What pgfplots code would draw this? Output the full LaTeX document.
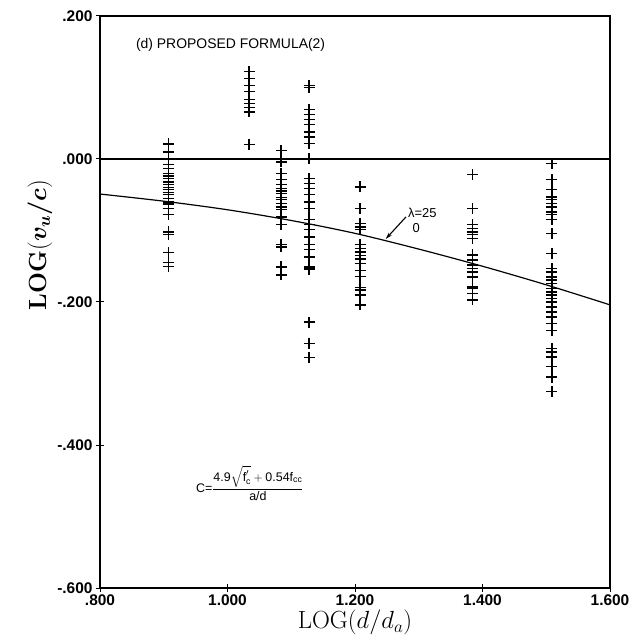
\documentclass[border=0pt]{standalone}
\usepackage{pgfplots}
\pgfplotsset{compat=1.18}
\usepackage{amsmath}
\usepackage[no-math]{fontspec}
\usepackage{bm}
\setmainfont{Liberation Sans}
\usetikzlibrary{arrows.meta}
\begin{document}
\begin{tikzpicture}
\begin{axis}[
  scale only axis, width=510bp, height=572bp,
  xmin=0.8, xmax=1.6, ymin=-0.6, ymax=0.2,
  xtick={0.8,1.0,1.2,1.4,1.6}, xticklabels={.800,1.000,1.200,1.400,1.600},
  ytick={-0.6,-0.4,-0.2,0,0.2}, yticklabels={-.600,-.400,-.200,.000,.200},
  tick pos=left, tick align=center, major tick length=8bp,
  axis line style={line width=1.2pt},
  every tick/.style={black, line width=1pt},
  ticklabel style={font=\fontsize{15.5}{15.5}\selectfont\bfseries},
  xticklabel style={yshift=1bp},
  xlabel={$\mathrm{LOG}(d/d_a)$},
  ylabel={$\mathbf{LOG}(\bm{v_u/c})$},
  label style={font=\fontsize{26}{26}\selectfont},
  ylabel style={at={(ticklabel cs:0.6)}, yshift=-2bp},
  xlabel style={inner sep=1bp},
]
\addplot[black, line width=1.2pt] coordinates {(0.8,0) (1.6,0)};
\addplot[black, line width=1.2pt, smooth] coordinates {
(0.8,-0.049) (0.9,-0.059) (1.0,-0.071) (1.1,-0.086) (1.2,-0.104)
(1.3,-0.126) (1.4,-0.150) (1.5,-0.176) (1.6,-0.204)};
\addplot[only marks, mark=+, mark size=5.5bp, line width=1.4pt, black] table {
x y
0.907 0.021
0.907 0.010
0.907 0.000
0.907 -0.008
0.907 -0.013
0.907 -0.020
0.907 -0.024
0.907 -0.027
0.907 -0.032
0.907 -0.036
0.907 -0.040
0.907 -0.043
0.907 -0.047
0.907 -0.050
0.907 -0.055
0.907 -0.060
0.907 -0.062
0.907 -0.064
0.907 -0.069
0.907 -0.078
0.907 -0.102
0.907 -0.106
0.907 -0.131
0.907 -0.145
0.907 -0.150
1.034 0.122
1.034 0.113
1.034 0.103
1.034 0.094
1.034 0.083
1.034 0.078
1.034 0.072
1.034 0.066
1.034 0.020
1.084 0.012
1.084 -0.004
1.084 -0.020
1.084 -0.029
1.084 -0.036
1.084 -0.041
1.084 -0.045
1.084 -0.048
1.084 -0.054
1.084 -0.057
1.084 -0.062
1.084 -0.067
1.084 -0.071
1.084 -0.081
1.084 -0.092
1.084 -0.120
1.084 -0.123
1.084 -0.151
1.084 -0.162
1.128 0.103
1.128 0.100
1.128 0.069
1.128 0.062
1.128 0.055
1.128 0.048
1.128 0.038
1.128 0.031
1.128 0.022
1.128 0.000
1.128 -0.027
1.128 -0.034
1.128 -0.041
1.128 -0.050
1.128 -0.060
1.128 -0.069
1.128 -0.085
1.128 -0.092
1.128 -0.099
1.128 -0.109
1.128 -0.120
1.128 -0.127
1.128 -0.137
1.128 -0.151
1.128 -0.154
1.128 -0.228
1.128 -0.258
1.128 -0.278
1.208 -0.039
1.208 -0.069
1.208 -0.090
1.208 -0.095
1.208 -0.099
1.208 -0.120
1.208 -0.125
1.208 -0.130
1.208 -0.135
1.208 -0.140
1.208 -0.146
1.208 -0.156
1.208 -0.164
1.208 -0.180
1.208 -0.183
1.208 -0.190
1.208 -0.204
1.384 -0.022
1.384 -0.069
1.384 -0.092
1.384 -0.097
1.384 -0.102
1.384 -0.106
1.384 -0.111
1.384 -0.134
1.384 -0.141
1.384 -0.148
1.384 -0.153
1.384 -0.158
1.384 -0.165
1.384 -0.179
1.384 -0.181
1.384 -0.188
1.384 -0.197
1.509 -0.006
1.509 -0.029
1.509 -0.043
1.509 -0.053
1.509 -0.057
1.509 -0.062
1.509 -0.067
1.509 -0.074
1.509 -0.078
1.509 -0.085
1.509 -0.104
1.509 -0.132
1.509 -0.153
1.509 -0.158
1.509 -0.165
1.509 -0.169
1.509 -0.174
1.509 -0.181
1.509 -0.186
1.509 -0.190
1.509 -0.195
1.509 -0.200
1.509 -0.207
1.509 -0.214
1.509 -0.221
1.509 -0.230
1.509 -0.240
1.509 -0.265
1.509 -0.270
1.509 -0.277
1.509 -0.290
1.509 -0.305
1.509 -0.325
};
\node[anchor=west, font=\fontsize{14}{14}\selectfont] at (axis cs:0.851,0.159) {(d) PROPOSED FORMULA(2)};
\node[anchor=south west, font=\fontsize{13}{13}\selectfont, inner sep=0pt] at (axis cs:1.283,-0.082) {λ=25};
\node[anchor=north west, font=\fontsize{13}{13}\selectfont, inner sep=0pt] at (axis cs:1.290,-0.090) {0};
\draw[-{Stealth[length=7bp,width=4bp]}, line width=1.1pt] (axis cs:1.280,-0.081) -- (axis cs:1.248,-0.112);
\node[font=\fontsize{12.5}{12.5}\selectfont] at (axis cs:1.035,-0.453)
  {C=$\dfrac{\text{4.9}\sqrt{\text{f}'_{\text{c}}}+\text{0.54f}_{\text{cc}}}{\text{a/d}}$};
\end{axis}
\pgfresetboundingbox
\path ([shift={(-100bp,-55bp)}]current axis.south west) rectangle ([shift={(27bp,16bp)}]current axis.north east);
\end{tikzpicture}
\end{document}
